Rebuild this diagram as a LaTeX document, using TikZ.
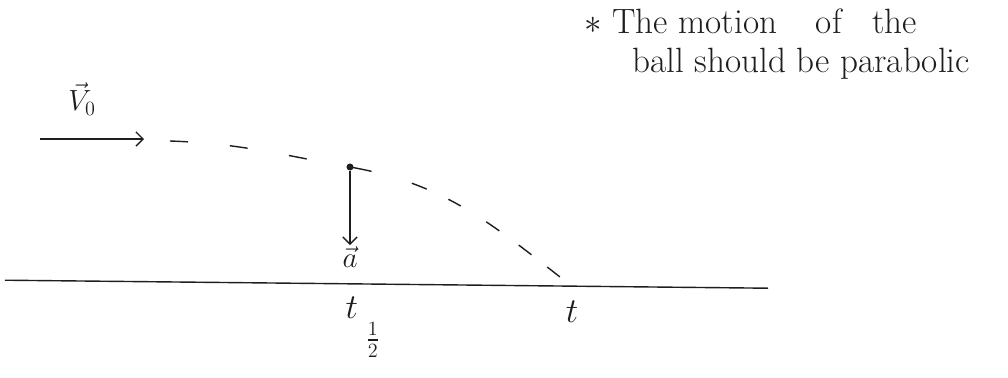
\documentclass[tikz,border=0pt]{standalone}
\usepackage{amsmath}
\usepackage{tikz}
\usetikzlibrary{positioning, arrows.meta}
\definecolor{Cink}{RGB}{30,30,30}
\tikzset{
  a/.style={-{Straight Barb[length=5pt,width=10pt]}, line width=1pt, color=Cink},
  trajA/.style={draw=Cink, line width=1pt, dash pattern=on 0.45cm off 1.05cm},
  trajB/.style={draw=Cink, line width=1pt,
    dash pattern=on 0.55cm off 1.05cm on 0.4cm off 0.6cm on 0.35cm off 0.75cm
                 on 0.4cm off 0.6cm on 0.4cm off 0.5cm on 0.4cm off 2cm},
  gnd/.style={draw=Cink, line width=1pt},
  dot/.style={circle, fill=Cink, inner sep=0pt, minimum size=5pt},
  lbl/.style={inner sep=1pt, text=Cink, font=\fontsize{22}{26}\selectfont},
  tlbl/.style={inner sep=1pt, text=Cink, font=\fontsize{30}{36}\selectfont},
  note/.style={inner sep=0pt, text=Cink, font=\fontsize{25}{30}\selectfont}
}
\begin{document}
\begin{tikzpicture}
\useasboundingbox (0,0) rectangle (25.2,9.425);

% ═══════════════════════════════════════════════════════════════
%  initial velocity
% ═══════════════════════════════════════════════════════════════
\coordinate (V0a) at (1.0, 5.95);
\coordinate (V0b) at (3.6, 5.95);
\draw[a] (V0a) -- (V0b);
\node[lbl] (Lv0) at (2.05, 6.95) {$\vec{V}_{0}$};

% ═══════════════════════════════════════════════════════════════
%  trajectory  (start x=4.25 | ball x=8.75 | landing x=14.0)
% ═══════════════════════════════════════════════════════════════
\node[dot] (Ball) at (8.75, 5.25) {};
\coordinate (Tst) at (4.25, 5.9);
\coordinate (Tgd) at (14.0, 2.5);
\draw[trajA] (Tst) to[out=-2, in=170] (Ball.center);
\draw[trajB] (Ball.center) to[out=-10, in=142] (Tgd);

\coordinate (Atip) at (8.75, 3.3);
\draw[a] (Ball) -- (Atip);
\node[lbl, below=0pt of Atip] (La) {$\vec{a}$};

% ═══════════════════════════════════════════════════════════════
%  ground + time marks
% ═══════════════════════════════════════════════════════════════
\coordinate (G0) at (0.12, 2.42);
\coordinate (G1) at (19.2, 2.22);
\draw[gnd] (G0) -- (G1);

\node[tlbl, anchor=north west] (Lth) at (8.6, 2.05)
  {$t_{\;\raisebox{-17pt}{$\scriptstyle\frac{1}{2}$}}$};
\node[tlbl] (Lt) at (14.3, 1.62) {$t$};

% ═══════════════════════════════════════════════════════════════
%  note
% ═══════════════════════════════════════════════════════════════
\node[note, anchor=base west] (N1) at (14.6, 8.6)
  {$\ast$ The motion\hspace{0.7cm} of\hspace{0.5cm} the};
\node[note, anchor=base west] (N2) at (15.8, 7.62) {ball should be parabolic};

\end{tikzpicture}
\end{document}
